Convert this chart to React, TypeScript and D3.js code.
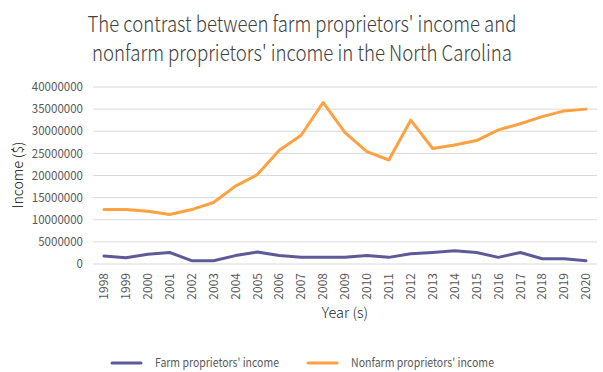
import React from "react";
import * as d3 from "d3";

const years = ["1998","1999","2000","2001","2002","2003","2004","2005","2006","2007","2008","2009","2010","2011","2012","2013","2014","2015","2016","2017","2018","2019","2020"];
const farmIncome = [1800000,1400000,2200000,2600000,750000,750000,1900000,2700000,1900000,1500000,1500000,1500000,1900000,1500000,2300000,2600000,3000000,2600000,1500000,2600000,1200000,1200000,750000];
const nonfarmIncome = [12300000,12300000,11900000,11200000,12300000,13900000,17600000,20200000,25700000,29100000,36500000,29700000,25400000,23500000,32500000,26100000,26900000,27900000,30300000,31700000,33300000,34600000,35000000];
const yTicks = [0,5000000,10000000,15000000,20000000,25000000,30000000,35000000,40000000];
const titleLines = ["The contrast between farm proprietors' income and", "nonfarm proprietors' income in the North Carolina"];
const seriesNames = ["Farm proprietors' income", "Nonfarm proprietors' income"];
const colors = ["#5e5a98", "#ffa041"];

export default function App() {
  const W = 603, H = 372;
  const left = 93, right = 597, top = 87, bottom = 264;
  const x = d3.scaleBand().domain(years).range([left, right]);
  const y = d3.scaleLinear().domain([0, 40000000]).range([bottom, top]);
  const line = d3.line<number>().x((_, i) => (x(years[i]) as number) + x.bandwidth() / 2).y(d => y(d));
  const font = "'Noto Sans CJK SC', 'Noto Sans', sans-serif";
  const series = [farmIncome, nonfarmIncome];
  const legendX = [112, 308];
  const legendLen = [124, 143];
  const titleLen = [429, 420];
  return (
    <svg width={W} height={H} style={{ position: "absolute", left: 0, top: 0, background: "#fff" }} fontFamily={font}>
      {titleLines.map((t, i) => (
        <text key={i} x={302} y={32 + i * 29} textAnchor="middle" fontSize={22} fontWeight={300} fill="#404040"
          textLength={titleLen[i]} lengthAdjust="spacingAndGlyphs">{t}</text>
      ))}
      {yTicks.map(t => (
        <g key={t}>
          <line x1={left} x2={right} y1={y(t)} y2={y(t)} stroke="#d9d9d9" strokeWidth={1} />
          <text x={83} y={y(t)} dy="0.35em" textAnchor="end" fontSize={12} fill="#595959"
            textLength={String(t).length * 6.4} lengthAdjust="spacingAndGlyphs">{t}</text>
        </g>
      ))}
      {years.map(yr => {
        const cx = (x(yr) as number) + x.bandwidth() / 2;
        return (
          <text key={yr} transform={`translate(${cx},273) rotate(-90)`} textAnchor="end" dy="0.35em" fontSize={12} fill="#595959">{yr}</text>
        );
      })}
      <text transform="translate(18,175) rotate(-90)" textAnchor="middle" dy="0.35em" fontSize={14} fontWeight={300} fill="#000">Income ($)</text>
      <text x={345} y={318} textAnchor="middle" fontSize={14.5} fontWeight={300} fill="#262626">Year (s)</text>
      {series.map((s, i) => (
        <path key={i} d={line(s) || ""} fill="none" stroke={colors[i]} strokeWidth={3} strokeLinejoin="round" strokeLinecap="round" />
      ))}
      {seriesNames.map((n, i) => (
        <g key={n}>
          <line x1={legendX[i]} x2={legendX[i] + 29} y1={363} y2={363} stroke={colors[i]} strokeWidth={3} strokeLinecap="round" />
          <text x={legendX[i] + 43} y={363} dy="0.35em" fontSize={12} fill="#595959"
            textLength={legendLen[i]} lengthAdjust="spacingAndGlyphs">{n}</text>
        </g>
      ))}
    </svg>
  );
}
